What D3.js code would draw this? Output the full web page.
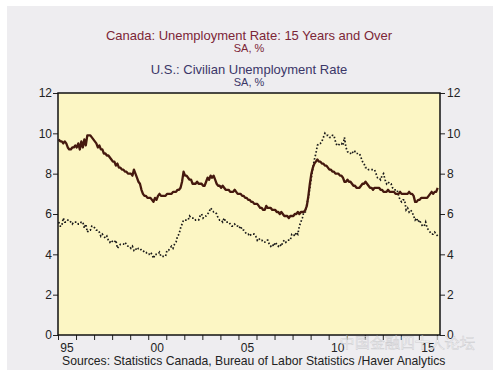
<!DOCTYPE html>
<html>
<head>
<meta charset="utf-8">
<script src="https://cdn.jsdelivr.net/npm/d3@7"></script>
<style>
  body { margin: 0; background: #fff; }
  text { font-family: "Liberation Sans", Arial, sans-serif; }
</style>
</head>
<body>
<div id="chart"></div>
<script>

// monthly values, Jan 1995 .. Jan 2016
var canada = [
	9.7, 9.6, 9.6, 9.5, 9.6, 9.5, 9.3, 9.2, 9.2, 9.3, 9.3, 9.4,
	9.3, 9.5, 9.2, 9.6, 9.3, 9.7, 9.4, 9.9, 9.9, 9.9, 9.8, 9.7,
	9.6, 9.5, 9.3, 9.4, 9.2, 9.2, 9.0, 9.0, 8.9, 8.9, 8.8, 8.7,
	8.6, 8.6, 8.4, 8.5, 8.3, 8.3, 8.2, 8.2, 8.1, 8.1, 8.0, 8.0,
	8.0, 7.9, 8.2, 8.0, 7.8, 7.6, 7.5, 7.2, 7.0, 6.9, 6.9, 6.8,
	6.8, 6.8, 6.7, 6.6, 6.8, 6.7, 6.9, 7.0, 6.9, 6.9, 6.9, 6.9,
	7.0, 7.0, 7.0, 7.0, 7.1, 7.1, 7.1, 7.2, 7.2, 7.3, 7.6, 8.1,
	7.9, 7.9, 7.8, 7.7, 7.7, 7.5, 7.5, 7.5, 7.6, 7.5, 7.5, 7.5,
	7.4, 7.4, 7.6, 7.8, 7.7, 7.9, 7.8, 7.9, 7.7, 7.5, 7.4, 7.4,
	7.3, 7.4, 7.3, 7.2, 7.2, 7.2, 7.1, 7.1, 7.1, 7.2, 7.1, 7.0,
	7.0, 7.0, 6.9, 6.9, 6.8, 6.8, 6.7, 6.7, 6.6, 6.6, 6.5, 6.5,
	6.5, 6.4, 6.3, 6.3, 6.2, 6.2, 6.4, 6.3, 6.3, 6.3, 6.2, 6.2,
	6.2, 6.1, 6.1, 6.0, 6.1, 6.0, 5.9, 5.9, 5.9, 5.8, 5.9, 5.9,
	5.9, 6.0, 6.0, 6.1, 6.0, 6.1, 6.1, 6.1, 6.2, 6.4, 6.9, 7.5,
	8.0, 8.3, 8.5, 8.6, 8.7, 8.6, 8.6, 8.5, 8.5, 8.4, 8.4, 8.3,
	8.2, 8.2, 8.1, 8.1, 8.0, 8.0, 8.0, 7.9, 7.9, 7.8, 7.6, 7.6,
	7.7, 7.6, 7.6, 7.5, 7.4, 7.4, 7.3, 7.3, 7.3, 7.4, 7.5, 7.5,
	7.6, 7.5, 7.4, 7.3, 7.3, 7.2, 7.3, 7.3, 7.3, 7.3, 7.2, 7.2,
	7.1, 7.1, 7.1, 7.2, 7.1, 7.1, 7.1, 7.1, 7.0, 7.0, 7.0, 7.1,
	7.0, 7.0, 7.0, 7.0, 7.0, 7.1, 7.0, 7.0, 6.9, 6.6, 6.6, 6.7,
	6.7, 6.8, 6.8, 6.8, 6.8, 6.8, 6.9, 7.0, 7.1, 7.0, 7.1, 7.1,
	7.3
]

var us = [
	5.6, 5.4, 5.4, 5.8, 5.6, 5.6, 5.7, 5.7, 5.6, 5.5, 5.6, 5.6,
	5.6, 5.5, 5.5, 5.6, 5.6, 5.3, 5.5, 5.1, 5.2, 5.2, 5.4, 5.4,
	5.3, 5.2, 5.2, 5.1, 4.9, 5.0, 4.9, 4.8, 4.9, 4.7, 4.6, 4.7,
	4.6, 4.6, 4.7, 4.3, 4.4, 4.5, 4.5, 4.5, 4.6, 4.5, 4.4, 4.4,
	4.3, 4.4, 4.2, 4.3, 4.2, 4.3, 4.3, 4.2, 4.2, 4.1, 4.1, 4.0,
	4.0, 4.1, 4.0, 3.8, 4.0, 4.0, 4.0, 4.1, 3.9, 3.9, 3.9, 3.9,
	4.2, 4.2, 4.3, 4.4, 4.3, 4.5, 4.6, 4.9, 5.0, 5.3, 5.5, 5.7,
	5.7, 5.7, 5.7, 5.9, 5.8, 5.8, 5.8, 5.7, 5.7, 5.7, 5.9, 6.0,
	5.8, 5.9, 5.9, 6.0, 6.1, 6.3, 6.2, 6.1, 6.1, 6.0, 5.8, 5.7,
	5.7, 5.6, 5.8, 5.6, 5.6, 5.6, 5.5, 5.4, 5.4, 5.5, 5.4, 5.4,
	5.3, 5.4, 5.2, 5.2, 5.1, 5.0, 5.0, 4.9, 5.0, 5.0, 5.0, 4.9,
	4.7, 4.8, 4.7, 4.7, 4.6, 4.6, 4.7, 4.7, 4.5, 4.4, 4.5, 4.4,
	4.6, 4.5, 4.4, 4.5, 4.4, 4.6, 4.7, 4.6, 4.7, 4.7, 4.7, 5.0,
	5.0, 4.9, 5.1, 5.0, 5.4, 5.6, 5.8, 6.1, 6.1, 6.5, 6.8, 7.3,
	7.8, 8.3, 8.7, 9.0, 9.4, 9.5, 9.5, 9.6, 9.8, 10.0, 9.9, 9.9,
	9.8, 9.8, 9.9, 9.9, 9.6, 9.4, 9.4, 9.5, 9.5, 9.4, 9.8, 9.3,
	9.1, 9.0, 9.0, 9.1, 9.0, 9.1, 9.0, 9.0, 9.0, 8.8, 8.6, 8.5,
	8.3, 8.3, 8.2, 8.2, 8.2, 8.2, 8.2, 8.0, 7.8, 7.8, 7.7, 7.9,
	8.0, 7.7, 7.5, 7.6, 7.5, 7.5, 7.3, 7.2, 7.2, 7.2, 6.9, 6.7,
	6.6, 6.7, 6.7, 6.2, 6.3, 6.1, 6.2, 6.1, 5.9, 5.7, 5.8, 5.6,
	5.7, 5.5, 5.4, 5.4, 5.6, 5.3, 5.2, 5.1, 5.0, 5.0, 5.1, 5.0,
	4.9
]

var startYear = 1995

var yearTicks = d3.range(1995, 2017)

var yearLabels = [
	{ year: 1995, label: "95" },
	{ year: 2000, label: "00" },
	{ year: 2005, label: "05" },
	{ year: 2010, label: "10" },
	{ year: 2015, label: "15" }
]

var valueTicks = [0, 2, 4, 6, 8, 10, 12]

var width = 496, height = 371

var svg = d3.select("#chart").append("svg")
	.attr("width", width)
	.attr("height", height)

svg.append("rect")
	.attr("x", 7).attr("y", 6)
	.attr("width", 486).attr("height", 364)
	.attr("fill", "#eeedf0")

var plot = { left: 58, right: 440, top: 93, bottom: 335 }

var x = d3.scaleLinear()
	.domain([1995, 2016.17])
	.range([plot.left, plot.right])

var y = d3.scaleLinear()
	.domain([0, 12])
	.range([plot.bottom, plot.top])

var toPoints = (arr) => arr.map((v, i) => ({ t: startYear + (i + 0.5) / 12, v: v }))

svg.append("rect")
	.attr("x", plot.left).attr("y", plot.top)
	.attr("width", plot.right - plot.left)
	.attr("height", plot.bottom - plot.top)
	.attr("fill", "#fcf6c4")

// titles

var titles = [
	{ text: "Canada: Unemployment Rate: 15 Years and Over", y: 40, size: 13, color: "#7c2637" },
	{ text: "SA, %", y: 52, size: 11, color: "#7c2637" },
	{ text: "U.S.: Civilian Unemployment Rate", y: 74, size: 13, color: "#3b3768" },
	{ text: "SA, %", y: 86, size: 11, color: "#3b3768" }
]

svg.selectAll(".title").data(titles)
	.enter()
	.append("text")
	.attr("class", "title")
	.attr("x", 249)
	.attr("y", d => d.y)
	.attr("text-anchor", "middle")
	.attr("font-size", d => d.size)
	.attr("fill", d => d.color)
	.text(d => d.text)

// lines

var line = d3.line()
	.x(d => x(d.t))
	.y(d => y(d.v))

svg.append("path")
	.datum(toPoints(us))
	.attr("fill", "none")
	.attr("stroke", "#1a1a1a")
	.attr("stroke-width", 1.7)
	.attr("stroke-dasharray", "1.6,2")
	.attr("d", line)

svg.append("path")
	.datum(toPoints(canada))
	.attr("fill", "none")
	.attr("stroke", "#45190e")
	.attr("stroke-width", 2.3)
	.attr("stroke-linejoin", "round")
	.attr("d", line)

// axes

var axisLeft = d3.axisLeft(y).tickValues(valueTicks).tickSize(5).tickPadding(1)
var axisRight = d3.axisRight(y).tickValues(valueTicks).tickSize(5).tickPadding(2)
var axisBottom = d3.axisBottom(x).tickValues(yearTicks).tickSize(5).tickFormat("")

function styleAxis(g) {
	g.select(".domain").remove()
	g.selectAll("line").attr("stroke", "#222")
	g.selectAll("text")
		.attr("font-family", "Liberation Sans, Arial, sans-serif")
		.attr("font-size", 12)
		.attr("fill", "#222")
}

svg.append("g")
	.attr("transform", `translate(${plot.left},0)`)
	.call(axisLeft)
	.call(styleAxis)

svg.append("g")
	.attr("transform", `translate(${plot.right},0)`)
	.call(axisRight)
	.call(styleAxis)

svg.append("g")
	.attr("transform", `translate(0,${plot.bottom})`)
	.call(axisBottom)
	.call(styleAxis)

svg.selectAll(".yearLabel").data(yearLabels)
	.enter()
	.append("text")
	.attr("class", "yearLabel")
	.attr("x", d => x(d.year + 0.5))
	.attr("y", 352)
	.attr("text-anchor", "middle")
	.attr("font-size", 12)
	.attr("fill", "#222")
	.text(d => d.label)

svg.append("rect")
	.attr("x", plot.left).attr("y", plot.top)
	.attr("width", plot.right - plot.left)
	.attr("height", plot.bottom - plot.top)
	.attr("fill", "none")
	.attr("stroke", "#111")
	.attr("stroke-width", 1.5)

svg.append("text")
	.attr("x", 62)
	.attr("y", 364.5)
	.attr("font-size", 12.2)
	.attr("fill", "#222")
	.text("Sources:  Statistics Canada, Bureau of Labor Statistics /Haver Analytics")

// watermark (faint, as in the source image)

svg.append("text")
	.attr("x", 340)
	.attr("y", 348)
	.attr("font-family", "Noto Sans CJK SC")
	.attr("font-size", 15)
	.attr("fill", "#ffffff")
	.attr("fill-opacity", 0.6)
	.attr("stroke", "#c4c4c8")
	.attr("stroke-opacity", 0.8)
	.attr("stroke-width", 0.5)
	.text("中国金融四十人论坛")

</script>
</body>
</html>
